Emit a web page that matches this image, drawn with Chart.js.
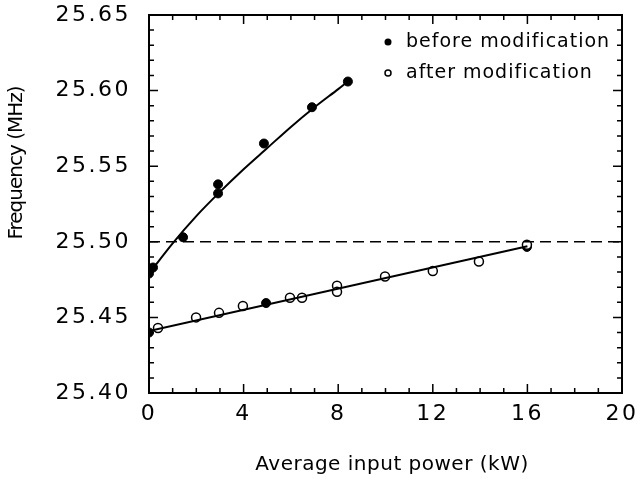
<!DOCTYPE html>
<html>
<head>
<meta charset="utf-8">
<script src="https://cdn.jsdelivr.net/npm/chart.js@4.4.0/dist/chart.umd.min.js"></script>
<style>
  html, body { margin: 0; padding: 0; background: #fff; }
  #wrap { width: 642px; height: 491px; }
</style>
</head>
<body>
<div id="wrap"><canvas id="chartCanvas" width="642" height="491"></canvas></div>
<script>
// measured points (filled markers)
const beforeX = [0, 0.17, 1.44, 2.92, 2.92, 4.86, 6.89, 8.41, 0, 4.95, 15.98];
const beforeY = [25.479, 25.483, 25.503, 25.538, 25.532, 25.565, 25.589, 25.606, 25.440, 25.4595, 25.4966];
// measured points (open markers)
const afterX = [0.38, 1.99, 2.96, 3.97, 5.96, 6.47, 7.95, 7.95, 9.98, 12.0, 13.95, 15.98];
const afterY = [25.443, 25.450, 25.453, 25.4575, 25.463, 25.463, 25.471, 25.467, 25.477, 25.4807, 25.487, 25.498];
// fitted curves
const beforeFitX = [0, 1, 2, 3, 4, 5, 6, 7, 8, 8.4];
const beforeFitY = [25.479, 25.499, 25.517, 25.533, 25.548, 25.562, 25.576, 25.589, 25.601, 25.606];
const afterFitX = [0, 16];
const afterFitY = [25.441, 25.497];
const refLineX = [0, 20];
const refLineY = [25.50, 25.50];

const legendLabels = ["before modification", "after modification"];
const xTitle = "Average input power (kW)";
const yTitle = "Frequency (MHz)";

function pts(xs, ys) {
  return xs.map((x, i) => ({ x: x, y: ys[i] }));
}

const FONT = "'DejaVu Sans', sans-serif";

const framePlugin = {
  id: "frame",
  beforeDraw(chart) {
    chart.ctx.letterSpacing = "2.5px";
  },
  afterDraw(chart) {
    const ctx = chart.ctx;
    const a = chart.chartArea;
    const xs = chart.scales.x;
    const ys = chart.scales.y;
    ctx.save();
    ctx.strokeStyle = "#000";
    ctx.lineWidth = 2;
    ctx.strokeRect(a.left, a.top, a.right - a.left, a.bottom - a.top);
    ctx.lineWidth = 1.5;
    ctx.beginPath();
    for (let v = 0; v <= 20; v++) {
      const px = xs.getPixelForValue(v);
      const len = v % 4 === 0 ? 9 : 5;
      ctx.moveTo(px, a.bottom); ctx.lineTo(px, a.bottom - len);
      ctx.moveTo(px, a.top); ctx.lineTo(px, a.top + len);
    }
    for (let i = 0; i <= 25; i++) {
      const py = ys.getPixelForValue(25.40 + i * 0.01);
      const len = i % 5 === 0 ? 9 : 5;
      ctx.moveTo(a.left, py); ctx.lineTo(a.left + len, py);
      ctx.moveTo(a.right, py); ctx.lineTo(a.right - len, py);
    }
    ctx.stroke();

    // legend
    ctx.letterSpacing = "1px";
    ctx.font = "19px " + FONT;
    ctx.fillStyle = "#000";
    ctx.textBaseline = "middle";
    ctx.textAlign = "left";
    ctx.beginPath();
    ctx.arc(388, 42, 3.5, 0, Math.PI * 2);
    ctx.fill();
    ctx.fillText(legendLabels[0], 406, 42);
    ctx.beginPath();
    ctx.arc(388, 73, 3, 0, Math.PI * 2);
    ctx.lineWidth = 1.5;
    ctx.stroke();
    ctx.fillText(legendLabels[1], 406, 73);

    // axis titles
    ctx.letterSpacing = "0.5px";
    ctx.font = "20px " + FONT;
    ctx.textAlign = "center";
    ctx.fillText(xTitle, 392, 465);
    ctx.save();
    ctx.translate(17, 163);
    ctx.rotate(-Math.PI / 2);
    ctx.letterSpacing = "-1px";
    ctx.font = "20px " + FONT;
    ctx.fillText(yTitle, 0, 0);
    ctx.restore();
    ctx.restore();
  }
};

const ctx = document.getElementById("chartCanvas").getContext("2d");

new Chart(ctx, {
  type: "scatter",
  data: {
    datasets: [
      {
        data: pts(refLineX, refLineY),
        showLine: true,
        borderColor: "#000",
        borderWidth: 1.5,
        borderDash: [11, 6],
        pointRadius: 0
      },
      {
        data: pts(beforeFitX, beforeFitY),
        showLine: true,
        borderColor: "#000",
        borderWidth: 2,
        tension: 0.3,
        pointRadius: 0
      },
      {
        data: pts(afterFitX, afterFitY),
        showLine: true,
        borderColor: "#000",
        borderWidth: 2,
        pointRadius: 0
      },
      {
        data: pts(afterX, afterY),
        pointRadius: 4.5,
        pointBackgroundColor: "#fff",
        pointBorderColor: "#000",
        pointBorderWidth: 1.5
      },
      {
        data: pts(beforeX, beforeY),
        pointRadius: 4.5,
        pointBackgroundColor: "#000",
        pointBorderColor: "#000",
        pointBorderWidth: 1
      }
    ]
  },
  options: {
    responsive: false,
    animation: false,
    layout: { padding: { top: 15, right: 20, left: 0, bottom: 0 } },
    plugins: {
      legend: { display: false },
      tooltip: { enabled: false }
    },
    scales: {
      x: {
        type: "linear",
        min: 0,
        max: 20,
        ticks: {
          stepSize: 4,
          color: "#000",
          padding: 8,
          font: { family: FONT, size: 22 }
        },
        grid: { display: false, drawTicks: false },
        border: { display: false },
        afterFit(scale) {
          scale.height = 98;
          scale.paddingLeft = 0;
          scale.paddingRight = 0;
        }
      },
      y: {
        type: "linear",
        min: 25.40,
        max: 25.65,
        ticks: {
          stepSize: 0.05,
          color: "#000",
          padding: 18,
          font: { family: FONT, size: 22 },
          callback: v => v.toFixed(2)
        },
        grid: { display: false, drawTicks: false },
        border: { display: false },
        afterFit(scale) {
          scale.width = 149;
          scale.paddingTop = 0;
          scale.paddingBottom = 0;
        }
      }
    }
  },
  plugins: [framePlugin]
});
</script>
</body>
</html>
